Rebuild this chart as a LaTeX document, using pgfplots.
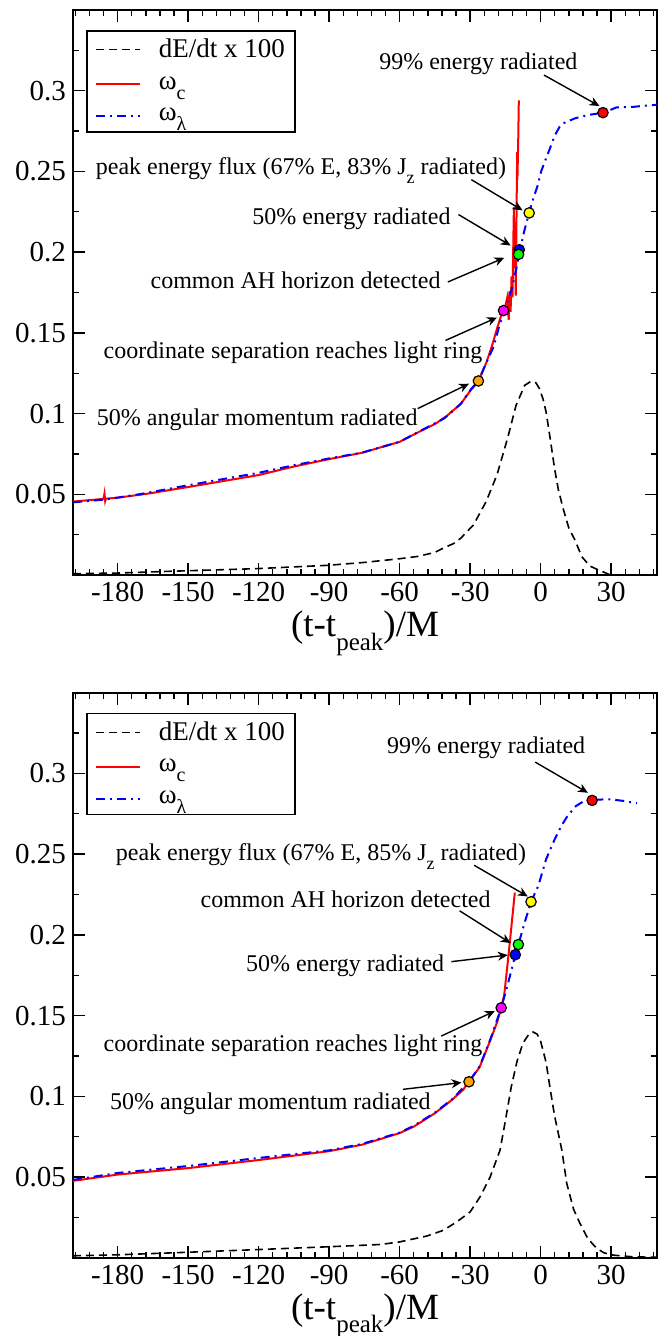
\documentclass[border=0pt]{standalone}
\usepackage{fontspec}
\setmainfont{Liberation Serif}
\usepackage{pgfplots}
\pgfplotsset{compat=1.18}
\usetikzlibrary{arrows.meta}

\definecolor{xorange}{RGB}{255,165,0}
\definecolor{xgreen}{RGB}{0,255,0}
\definecolor{xyellow}{RGB}{255,255,0}
\definecolor{xmagenta}{RGB}{255,0,255}
\definecolor{xred}{RGB}{255,0,0}
\definecolor{xblue}{RGB}{0,0,255}

\newcommand{\lowsub}[3]{\raisebox{-#2}{\fontsize{#1}{#1}\selectfont #3}}
\newcommand{\annfont}{\fontsize{12}{14}\selectfont}
\newcommand{\mk}[3]{\addplot[only marks, mark=*, mark size=2.6pt, mark options={draw=black, fill=#1, line width=0.6pt}, forget plot] coordinates {(#2,#3)};}
\newcommand{\ann}[3]{\node[anchor=base, font=\annfont, inner sep=0pt] at (axis cs:#1,#2) {#3};}
\newcommand{\arr}[4]{\draw[line width=0.7pt, -{Stealth[length=5pt, width=4.5pt]}] (axis cs:#1,#2) -- (axis cs:#3,#4);}

\pgfplotsset{
  mystyle/.style={
    scale only axis, width=292pt, height=282.5pt,
    xmin=-199, xmax=49.5, ymin=0, ymax=0.35,
    xtick={-180,-150,-120,-90,-60,-30,0,30},
    xticklabels={-180,-150,-120,-90,-60,-30,0,30},
    minor xtick={-198,-192,...,48},
    ytick={0.05,0.1,0.15,0.2,0.25,0.3},
    yticklabels={0.05,0.1,0.15,0.2,0.25,0.3},
    minor ytick={0.025,0.075,0.125,0.175,0.225,0.275,0.325},
    tick align=inside, major tick length=6pt, minor tick length=3pt,
    tick style={black, line width=0.7pt},
    axis line style={line width=1pt},
    ticklabel style={font=\fontsize{14.5}{16}\selectfont},
    xlabel={(t-t\lowsub{12.5pt}{6.5pt}{peak})/M},
    xlabel style={at={(axis description cs:0.5,0)}, anchor=base, yshift=-31pt, font=\fontsize{18.5}{20}\selectfont, inner sep=0pt},
    legend style={at={(rel axis cs:0.0223,0.9646)}, anchor=north west, draw=black, line width=0.8pt,
      font=\fontsize{13.5}{15}\selectfont, inner xsep=4pt, inner ysep=3pt, row sep=6pt,
      nodes={inner sep=1pt},
      /tikz/every odd column/.append style={column sep=8pt}},
    legend cell align=left,
    legend image code/.code={\draw[##1] (0pt,0pt) -- (22pt,0pt);},
  }
}

\begin{document}
\begin{tikzpicture}
\useasboundingbox (-36.5pt,-380.5pt) rectangle (298.5pt,287.5pt);

% ---------------- top panel ----------------
\begin{axis}[mystyle, at={(0pt,0pt)}, anchor=south west]
\addplot[black, line width=0.8pt, dash pattern=on 4pt off 2.5pt] coordinates {
(-199,0.0008) (-180,0.0012) (-157.7,0.0023) (-121.4,0.0039) (-90.5,0.006) (-75,0.0078)
(-60.5,0.0100) (-52.3,0.0115) (-45,0.014) (-41.4,0.0167) (-37,0.0195) (-34,0.0228)
(-28.6,0.031) (-23.2,0.0455) (-18.6,0.062) (-14.1,0.0846) (-10.5,0.105) (-6.8,0.1175)
(-4.1,0.120) (-2,0.119) (-0.5,0.1154) (1,0.109) (2.3,0.101) (4,0.085) (5.9,0.066)
(7.5,0.053) (9.5,0.0414) (12,0.029) (14.6,0.0216) (17.5,0.0113) (21,0.0055) (24,0.0035)
(28.1,0.001) (29.5,0.0)
};
\addlegendentry{dE/dt x 100}
\addplot[xred, line width=1pt] coordinates {
(-199,0.0455) (-190,0.0466) (-186,0.0472) (-185.6,0.0505) (-185.3,0.0458) (-185,0.0473)
(-180,0.0479) (-168,0.0502) (-150,0.0545) (-135,0.0582) (-120,0.0619) (-105,0.0672)
(-90,0.0718) (-76,0.0757) (-60,0.0825) (-52,0.0885) (-45,0.0935) (-40,0.0985)
(-34,0.106) (-30,0.114) (-26.5,0.120) (-23,0.132) (-20.5,0.143) (-18.5,0.153)
(-16.5,0.162) (-15,0.167) (-14.2,0.172) (-13.6,0.158) (-13.2,0.176) (-12.8,0.163)
(-12.4,0.185) (-12.0,0.172) (-11.6,0.21) (-11.4,0.228) (-11.2,0.19) (-10.8,0.205)
(-10.6,0.173) (-10.3,0.22) (-10.0,0.262) (-9.9,0.245) (-9.6,0.265) (-9.3,0.294)
};
\addlegendentry{ω\lowsub{10pt}{5pt}{c}}
\addplot[xblue, line width=1pt, dash pattern=on 4.5pt off 2.5pt on 1pt off 2.5pt] coordinates {
(-199,0.045) (-185,0.0468) (-170,0.0502) (-150,0.0556) (-120,0.0633) (-105,0.068)
(-90,0.0722) (-76,0.0758) (-60,0.0825) (-52,0.0887) (-41,0.097) (-34,0.106)
(-29.5,0.1154) (-26.5,0.1202) (-23,0.132) (-20,0.1414) (-17.5,0.155) (-15.6,0.1635)
(-12.3,0.177) (-10.2,0.191) (-9,0.2) (-7,0.213) (-5,0.224) (-3,0.234) (-1.4,0.2407)
(0.2,0.25) (2,0.257) (3.7,0.2633) (6.1,0.2726) (8,0.2775) (9.6,0.2798) (14.6,0.2829)
(20.3,0.285) (26.8,0.2864) (32.3,0.2897) (39.4,0.29) (47.2,0.2911) (49.5,0.2912)
};
\addlegendentry{ω\lowsub{10pt}{5pt}{λ}}

\ann{-26.5}{0.3132}{99\% energy radiated}
\arr{1.4}{0.3097}{25}{0.2905}
\ann{-102}{0.248}{peak energy flux (67\% E, 83\% J\lowsub{9pt}{4.5pt}{z} radiated)}
\arr{-29.5}{0.2449}{-7.7}{0.2259}
\ann{-80.5}{0.2171}{50\% energy radiated}
\arr{-35}{0.2233}{-12.8}{0.2041}
\ann{-104.3}{0.1774}{common AH horizon detected}
\arr{-39.5}{0.1815}{-15.5}{0.1965}
\ann{-105.4}{0.134}{coordinate separation reaches light ring}
\arr{-40.5}{0.1453}{-18.6}{0.1595}
\ann{-120.6}{0.0928}{50\% angular momentum radiated}
\arr{-52.3}{0.1031}{-30.5}{0.1185}

\mk{xred}{26.5}{0.2864}
\mk{xyellow}{-4.9}{0.2243}
\mk{xblue}{-9.1}{0.2015}
\mk{xgreen}{-9.4}{0.1986}
\mk{xmagenta}{-15.8}{0.1638}
\mk{xorange}{-26.5}{0.1202}
\end{axis}

% ---------------- bottom panel ----------------
\begin{axis}[mystyle, at={(0pt,-341.35pt)}, anchor=south west]
\addplot[black, line width=0.8pt, dash pattern=on 4pt off 2.5pt] coordinates {
(-199,0.0012) (-180,0.0018) (-157,0.0030) (-121,0.0050) (-90,0.0068) (-68,0.0082)
(-60,0.0098) (-48.5,0.0134) (-41.4,0.017) (-35.7,0.0222) (-30,0.0284) (-25.8,0.0377)
(-21.5,0.05) (-17.3,0.0666) (-15,0.085) (-12.5,0.106) (-10,0.122) (-7.5,0.133)
(-5,0.1385) (-3.2,0.1398) (-1.5,0.1385) (0,0.134) (2.3,0.121) (4,0.105) (5.9,0.088)
(9,0.0667) (11.1,0.046) (14,0.030) (16.7,0.0213) (20,0.012) (23.8,0.0058) (27,0.003)
(30.9,0.0016) (39.5,0.0005) (49.5,0.0003)
};
\addlegendentry{dE/dt x 100}
\addplot[xred, line width=1pt] coordinates {
(-199,0.0476) (-180,0.0515) (-150,0.0555) (-120,0.0605) (-90,0.066) (-76,0.0700)
(-60,0.0772) (-54,0.0812) (-45,0.0895) (-38,0.0975) (-33,0.104) (-30.5,0.109)
(-26,0.118) (-21.5,0.1345) (-18.5,0.146) (-16.8,0.1548) (-15.5,0.163) (-13.5,0.19)
(-11,0.2262)
};
\addlegendentry{ω\lowsub{10pt}{5pt}{c}}
\addplot[xblue, line width=1pt, dash pattern=on 4.5pt off 2.5pt on 1pt off 2.5pt] coordinates {
(-199,0.0482) (-180,0.0525) (-150,0.0568) (-120,0.0618) (-90,0.0665) (-76,0.0705)
(-60,0.0775) (-54,0.0817) (-45,0.0899) (-37.7,0.0981) (-30.5,0.109) (-25.9,0.1188)
(-21.4,0.1353) (-16.8,0.1548) (-15,0.164) (-12.3,0.1788) (-10.8,0.1877) (-9.5,0.194)
(-6.8,0.2077) (-4.1,0.2205) (-1,0.2304) (2.3,0.2468) (5.9,0.259) (9,0.268) (11.4,0.2736)
(15,0.2798) (18,0.2825) (21.9,0.2833) (25,0.2838) (29.5,0.284) (35,0.283) (41,0.2815)
};
\addlegendentry{ω\lowsub{10pt}{5pt}{λ}}

\ann{-23.2}{0.3124}{99\% energy radiated}
\arr{-2.3}{0.307}{20.1}{0.288}
\ann{-93.5}{0.2458}{peak energy flux (67\% E, 85\% J\lowsub{9pt}{4.5pt}{z} radiated)}
\arr{-28.3}{0.2431}{-5.5}{0.2238}
\ann{-83}{0.217}{common AH horizon detected}
\arr{-34.5}{0.2149}{-12.8}{0.1949}
\ann{-83.2}{0.1774}{50\% energy radiated}
\arr{-38}{0.1834}{-14}{0.1875}
\ann{-105.4}{0.1276}{coordinate separation reaches light ring}
\arr{-42.3}{0.1373}{-19.5}{0.1528}
\ann{-115}{0.092}{50\% angular momentum radiated}
\arr{-58.6}{0.1043}{-33.7}{0.1085}

\mk{xred}{21.9}{0.2833}
\mk{xyellow}{-4.1}{0.2205}
\mk{xgreen}{-9.5}{0.194}
\mk{xblue}{-10.8}{0.1877}
\mk{xmagenta}{-16.8}{0.1548}
\mk{xorange}{-30.5}{0.109}
\end{axis}
\end{tikzpicture}
\end{document}
